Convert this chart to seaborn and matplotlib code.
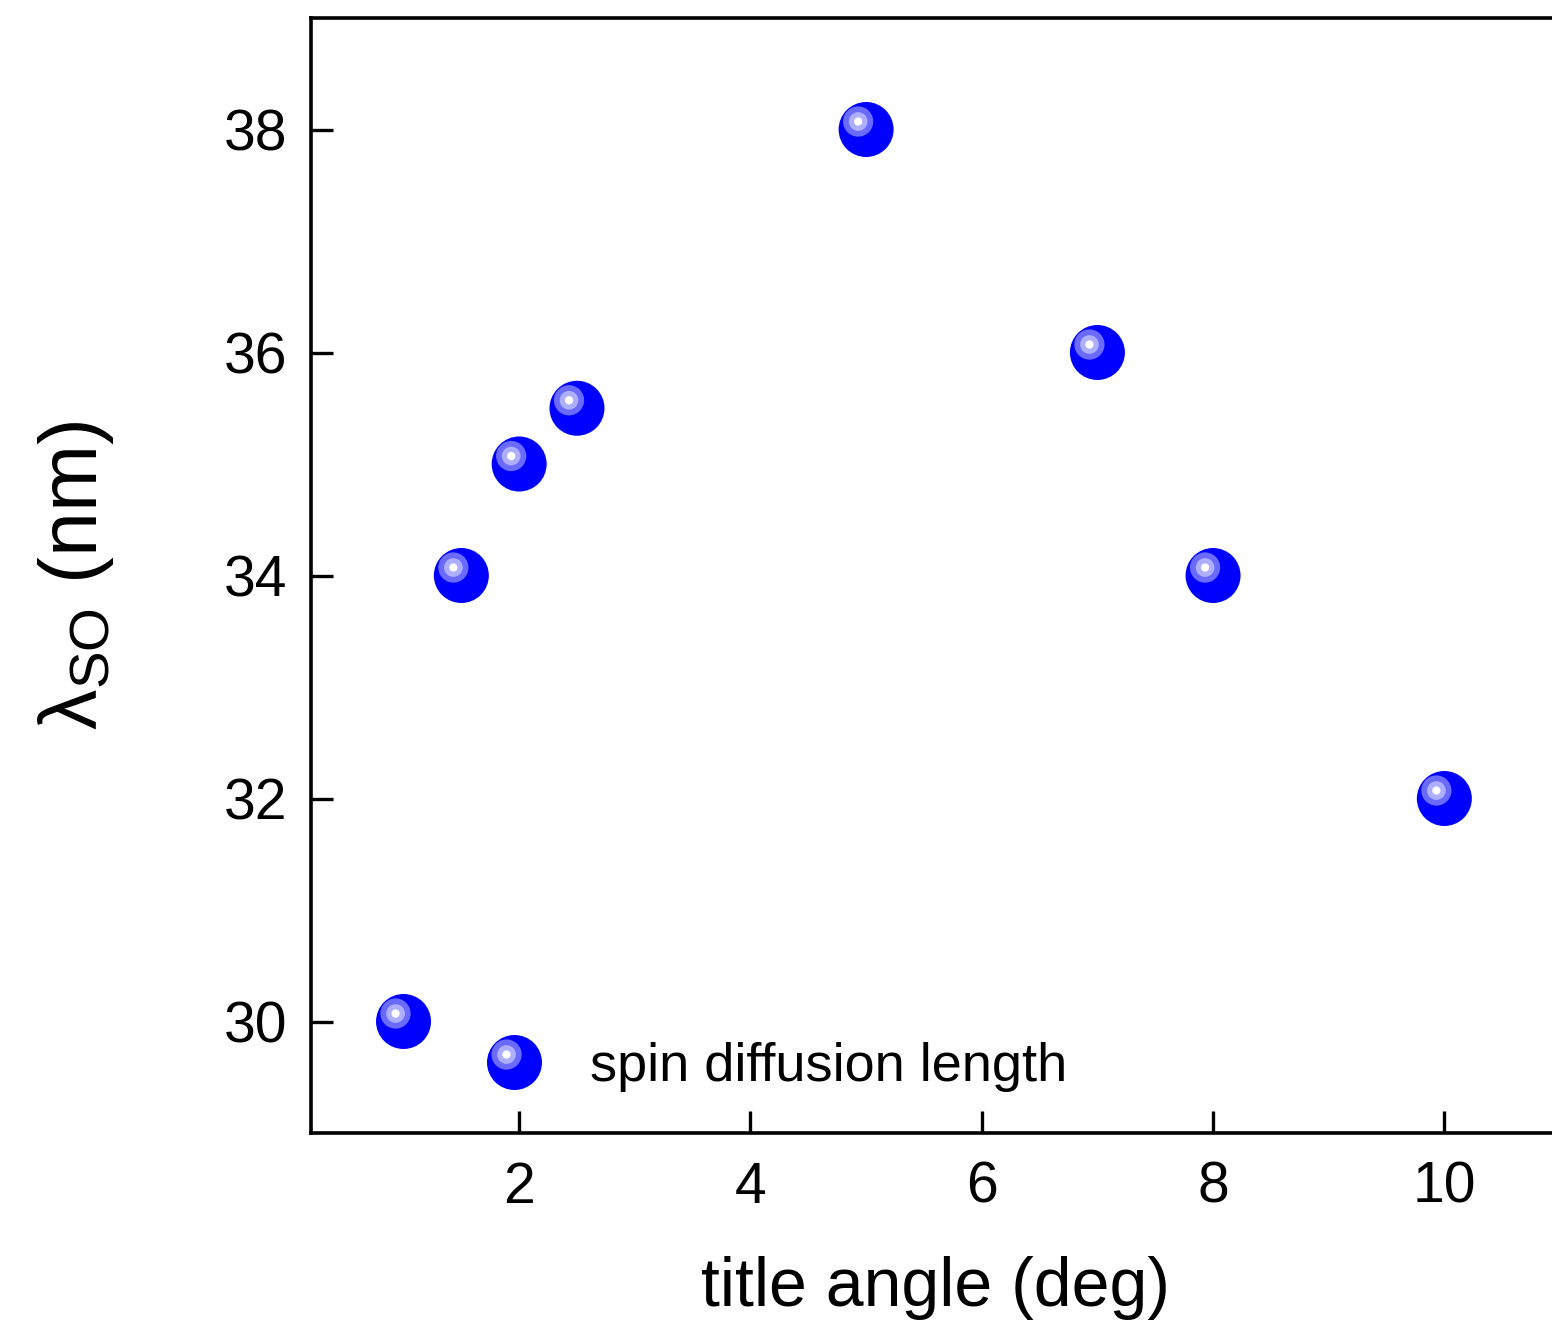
# spin diffusion length vs tilt angle
import numpy as np
import seaborn as sns
import matplotlib.pyplot as plt
from matplotlib.path import Path
from matplotlib.lines import Line2D

# data
tilt_angle = [1, 1.5, 2, 2.5, 5, 7, 8, 10]
lambda_so = [30, 34, 35, 35.5, 38, 36, 34, 32]
x_ticks = [2, 4, 6, 8, 10]
y_ticks = [30, 32, 34, 36, 38]

sns.set_style("ticks")
plt.rcParams["font.family"] = ["Liberation Sans", "DejaVu Sans"]
plt.rcParams["mathtext.fontset"] = "custom"
plt.rcParams["mathtext.rm"] = "Liberation Sans"
plt.rcParams["mathtext.it"] = "Liberation Sans:italic"
plt.rcParams["text.color"] = "black"
plt.rcParams["axes.labelcolor"] = "black"
plt.rcParams["xtick.color"] = "black"
plt.rcParams["ytick.color"] = "black"
plt.rcParams["axes.edgecolor"] = "black"

fig = plt.figure(figsize=(15.52, 13.27), dpi=100)
ax = fig.add_axes([311 / 1552, 194 / 1327, (1560 - 311) / 1552, 1115 / 1327])

# base blue ball
ms_base = 39.6  # diameter in points
blue = "#0000ff"
sns.scatterplot(x=tilt_angle, y=lambda_so, s=ms_base ** 2, color=blue,
                edgecolor="none", linewidth=0, ax=ax, legend=False, zorder=3)


# highlight circles, offset to the upper left inside the ball
def blob(r, off=0.29):
    c = Path.unit_circle()
    verts = c.vertices * r + np.array([-off, off])
    return Path(verts, c.codes), np.abs(verts).max()


shine = [(0.55, "#6a6aff"), (0.34, "#aeaeff"), (0.15, "white")]
legend_parts = [Line2D([], [], ls="none", marker="o", ms=ms_base,
                       color=blue, mec="none")]
for i, (r, col) in enumerate(shine):
    p, m = blob(r)
    ax.scatter(tilt_angle, lambda_so, marker=p, s=(ms_base * m) ** 2,
               color=col, edgecolors="none", linewidths=0, zorder=4 + i)
    legend_parts.append(Line2D([], [], ls="none", marker=p, ms=ms_base * m,
                               color=col, mec="none"))

ax.set_xlim(0.2, 11)
ax.set_ylim(29, 39)
ax.set_xticks(x_ticks)
ax.set_yticks(y_ticks)
ax.tick_params(direction="in", length=16, width=2.4, labelsize=41,
               top=False, right=False)
ax.tick_params(axis="x", pad=20)
ax.tick_params(axis="y", pad=17)
for sp in ax.spines.values():
    sp.set_linewidth(2.6)

ax.set_xlabel("title angle (deg)", fontsize=49, labelpad=30)
ax.set_ylabel(r"λ$_{\mathrm{SO}}$ (nm)", fontsize=58, labelpad=78)

ax.legend([tuple(legend_parts)], ["spin diffusion length"], numpoints=1,
          frameon=False, fontsize=39, handlelength=1.0, handletextpad=0.9,
          borderpad=0, borderaxespad=0, loc="center left",
          bbox_to_anchor=((487 - 311) / 1249, 0.059))

fig.savefig("out.png", dpi=100)
